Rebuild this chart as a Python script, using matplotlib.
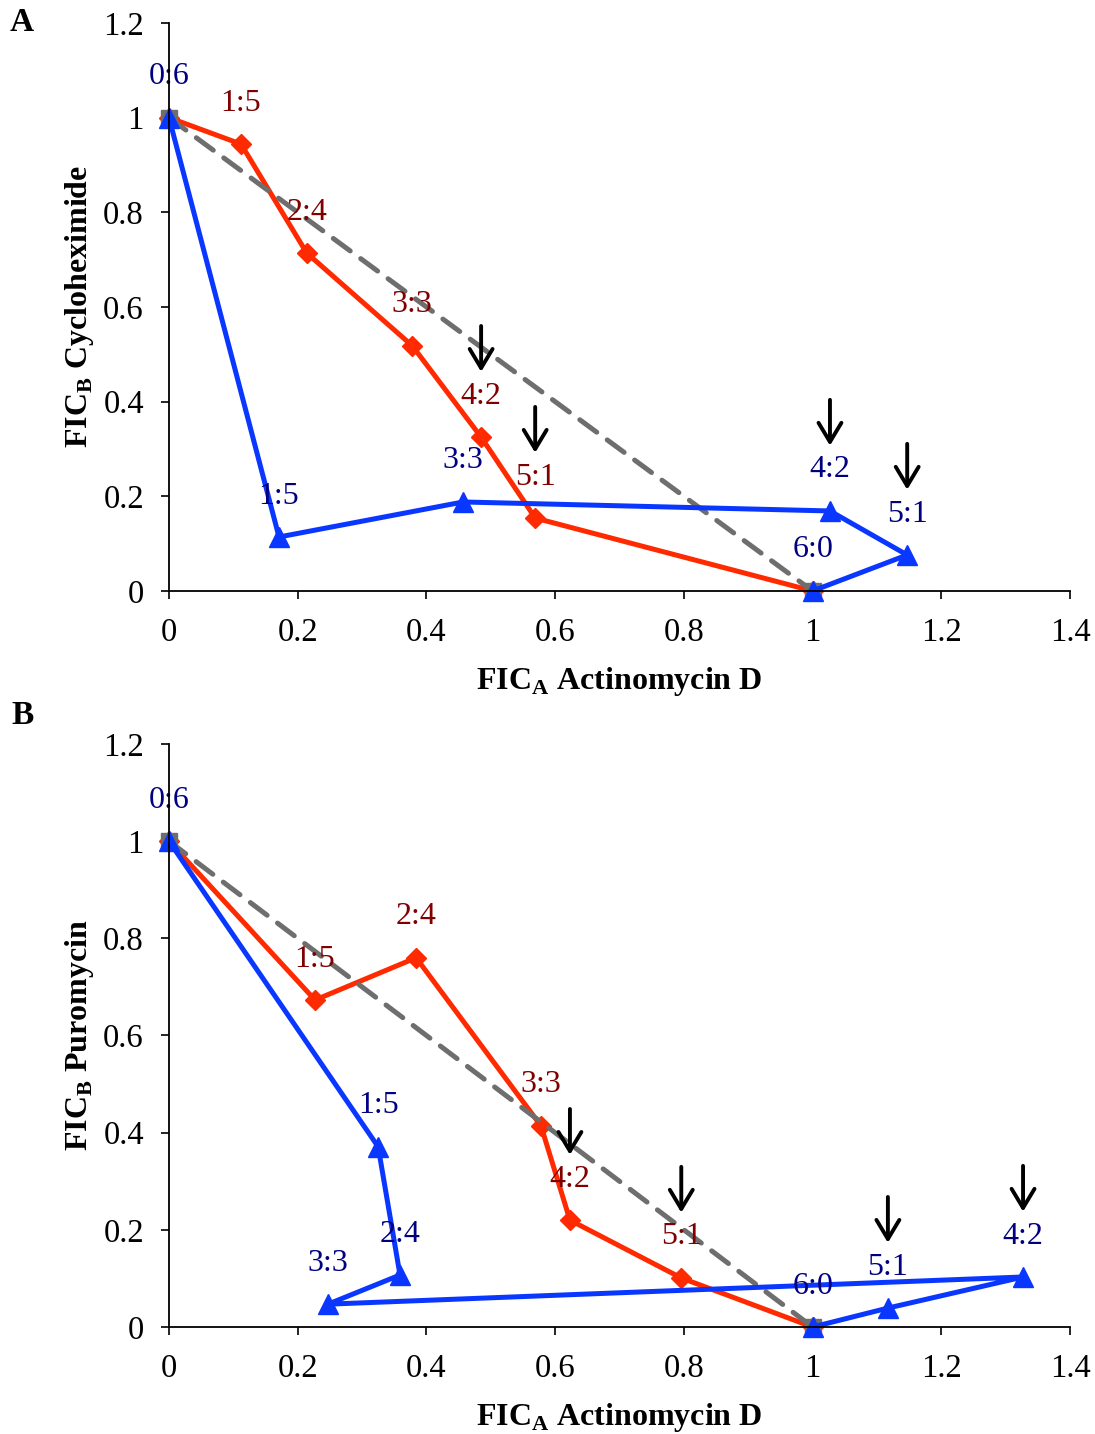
import matplotlib
matplotlib.use("Agg")
import matplotlib.pyplot as plt
import matplotlib.transforms as mtransforms

# combination ratios (drug A : drug B)
ratios = ['0:6', '1:5', '2:4', '3:3', '4:2', '5:1', '6:0']

# panel A: actinomycin D + cycloheximide
a_red_x = [0, 0.112, 0.214, 0.378, 0.485, 0.569, 1.0]
a_red_y = [1, 0.944, 0.714, 0.518, 0.325, 0.154, 0]
a_red_labels = ['1:5', '2:4', '3:3', '4:2', '5:1']
a_blue_ratios = ['0:6', '1:5', '3:3', '4:2', '5:1', '6:0']
a_blue_x = [0, 0.171, 0.457, 1.027, 1.147, 1.0]
a_blue_y = [1, 0.114, 0.188, 0.169, 0.076, 0]
a_blue_labels = ['0:6', '1:5', '3:3', '4:2', '5:1', '6:0']
a_red_arrows = ['4:2', '5:1']
a_blue_arrows = ['4:2', '5:1']

# panel B: actinomycin D + puromycin
b_red_x = [0, 0.227, 0.384, 0.578, 0.623, 0.796, 1.0]
b_red_y = [1, 0.673, 0.760, 0.414, 0.220, 0.101, 0]
b_red_labels = ['1:5', '2:4', '3:3', '4:2', '5:1']
b_blue_ratios = ratios
b_blue_x = [0, 0.325, 0.359, 0.247, 1.327, 1.117, 1.0]
b_blue_y = [1, 0.371, 0.107, 0.047, 0.103, 0.039, 0]
b_blue_labels = ['0:6', '1:5', '2:4', '3:3', '4:2', '5:1', '6:0']
b_red_arrows = ['4:2', '5:1']
b_blue_arrows = ['4:2', '5:1']

additive_x = [0, 1]
additive_y = [1, 0]

x_ticks = [0, 0.2, 0.4, 0.6, 0.8, 1, 1.2, 1.4]
y_ticks = [0, 0.2, 0.4, 0.6, 0.8, 1, 1.2]

RED = '#ff2a00'
BLUE = '#0a37ff'
GRAY = '#6e6e6e'
RED_TXT = '#800000'
BLUE_TXT = '#000080'

plt.rcParams['font.family'] = ['Liberation Serif', 'DejaVu Serif']
plt.rcParams['mathtext.fontset'] = 'custom'
plt.rcParams['mathtext.rm'] = 'Liberation Serif'
plt.rcParams['mathtext.bf'] = 'Liberation Serif:bold'

fig = plt.figure(figsize=(10.95, 14.34), dpi=100)
ax_a = fig.add_axes([0.1543, 0.5879, 0.8229, 0.3961])
ax_b = fig.add_axes([0.1543, 0.0746, 0.8229, 0.4066])


def label_points(ax, names, xs, ys, shown, color):
    for name, x, y in zip(names, xs, ys):
        if name in shown:
            ax.annotate(name, (x, y), xytext=(0, 29.5), textcoords='offset points',
                        ha='center', va='center', fontsize=23, color=color, zorder=6)


def add_arrows(ax, names, xs, ys, marked):
    for name, x, y in zip(names, xs, ys):
        if name in marked:
            tip = mtransforms.offset_copy(ax.transData, fig=fig, x=0, y=47, units='points')
            ax.annotate('', xy=(x, y), xycoords=tip, xytext=(0, 33), textcoords='offset points',
                        arrowprops=dict(arrowstyle='->,head_length=0.55,head_width=0.33',
                                        mutation_scale=25, lw=2.8, color='black',
                                        shrinkA=0, shrinkB=0), zorder=7)


def draw_panel(ax, red_x, red_y, red_labels, red_arrows,
               blue_names, blue_x, blue_y, blue_labels, blue_arrows, ylabel, letter, letter_y):
    ax.plot(red_x, red_y, color=RED, lw=3.6, marker='D', ms=10.5, zorder=3)
    ax.plot(additive_x, additive_y, color=GRAY, lw=3.6, ls=(0, (4.2, 2.6)),
            marker='s', ms=11, zorder=4, dash_capstyle='round')
    ax.plot(blue_x, blue_y, color=BLUE, lw=3.6, marker='^', ms=14, zorder=5)

    label_points(ax, ratios, red_x, red_y, red_labels, RED_TXT)
    label_points(ax, blue_names, blue_x, blue_y, blue_labels, BLUE_TXT)
    add_arrows(ax, ratios, red_x, red_y, red_arrows)
    add_arrows(ax, blue_names, blue_x, blue_y, blue_arrows)

    ax.set_xlim(0, 1.4)
    ax.set_ylim(0, 1.2)
    ax.set_xticks(x_ticks)
    ax.set_xticklabels(['0', '0.2', '0.4', '0.6', '0.8', '1', '1.2', '1.4'])
    ax.set_yticks(y_ticks)
    ax.set_yticklabels(['0', '0.2', '0.4', '0.6', '0.8', '1', '1.2'])
    ax.tick_params(direction='out', length=6, width=1.2, labelsize=23.5)
    ax.tick_params(axis='x', pad=13)
    ax.tick_params(axis='y', pad=12)
    for side in ['top', 'right']:
        ax.spines[side].set_visible(False)
    for side in ['left', 'bottom']:
        ax.spines[side].set_linewidth(1.3)
    ax.set_xlabel(r'FIC$_{\mathbf{A}}$ Actinomycin D', fontsize=23, fontweight='bold', labelpad=12)
    ax.set_ylabel(ylabel, fontsize=23, fontweight='bold')
    ax.yaxis.set_label_coords(-0.081, 0.5)
    for sp in ax.spines.values():
        sp.set_zorder(8)
    for line in ax.lines:
        line.set_clip_on(False)
    ax.text(-0.163, letter_y, letter, transform=ax.transAxes, fontsize=24, fontweight='bold',
            ha='center', va='center')


draw_panel(ax_a, a_red_x, a_red_y, a_red_labels, a_red_arrows,
           a_blue_ratios, a_blue_x, a_blue_y, a_blue_labels, a_blue_arrows,
           r'FIC$_{\mathbf{B}}$ Cycloheximide', 'A', 1.0)
draw_panel(ax_b, b_red_x, b_red_y, b_red_labels, b_red_arrows,
           b_blue_ratios, b_blue_x, b_blue_y, b_blue_labels, b_blue_arrows,
           r'FIC$_{\mathbf{B}}$ Puromycin', 'B', 1.048)

fig.savefig('out.png', dpi=100)
